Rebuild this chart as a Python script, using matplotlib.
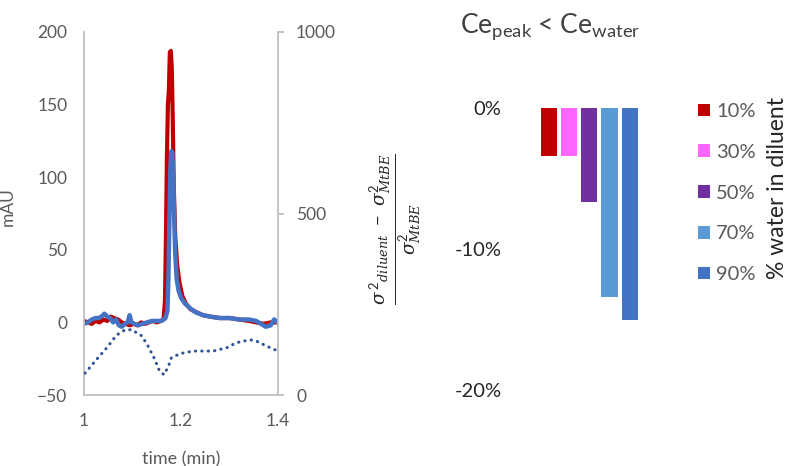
import matplotlib
matplotlib.use("Agg")
import matplotlib.pyplot as plt
from matplotlib.patches import Patch
from matplotlib.ticker import FuncFormatter

plt.rcParams['font.family'] = ['Lato', 'DejaVu Sans']
plt.rcParams['mathtext.fontset'] = 'custom'
plt.rcParams['mathtext.rm'] = 'Lato'
plt.rcParams['mathtext.it'] = 'DejaVu Serif:italic'
plt.rcParams['mathtext.bf'] = 'Lato:bold'

# --- chromatogram data ---
red_t = [1.000, 1.008, 1.016, 1.024, 1.032, 1.040, 1.048, 1.055, 1.062, 1.070,
         1.078, 1.086, 1.094, 1.102, 1.110, 1.118, 1.126, 1.134, 1.142, 1.150,
         1.158, 1.164, 1.167, 1.169, 1.171, 1.173, 1.175, 1.177, 1.179, 1.181,
         1.183, 1.185, 1.188, 1.192, 1.197, 1.203, 1.210, 1.220, 1.232, 1.245,
         1.260, 1.280, 1.300, 1.320, 1.340, 1.355, 1.370, 1.385, 1.400]
red_mau = [1, 0, -1, 1, 0, 2, 1, 4, 3, 2,
           0, -1, -2, -1, -2, 0, -1, 0, 1, 0,
           1, 2, 15, 60, 115, 150, 160, 186, 187, 175,
           140, 95, 60, 40, 27, 18, 13, 9, 7, 5,
           4, 3, 3, 2, 1, 0, -1, 0, 0]

blue_t = [1.000, 1.008, 1.016, 1.024, 1.030, 1.036, 1.042, 1.048, 1.054, 1.060,
          1.066, 1.072, 1.078, 1.084, 1.090, 1.094, 1.098, 1.104, 1.112, 1.120,
          1.130, 1.140, 1.150, 1.160, 1.168, 1.172, 1.174, 1.176, 1.178, 1.180,
          1.182, 1.184, 1.186, 1.188, 1.191, 1.195, 1.200, 1.208, 1.218, 1.230,
          1.245, 1.260, 1.280, 1.300, 1.320, 1.340, 1.355, 1.365, 1.375, 1.385,
          1.392, 1.400]
blue_mau = [-1, 0, 2, 3, 3, 4, 6, 4, 3, 0,
            2, -2, -3, -1, 0, 5, 0, -1, -2, -1,
            0, 1, 1, 1, 3, 8, 30, 70, 105, 118,
            117, 100, 72, 48, 30, 22, 17, 13, 10, 7,
            5, 4, 3, 3, 2, 2, 1, -1, -3, -2,
            2, 0]

dot_t = [1.002, 1.026, 1.047, 1.067, 1.084, 1.098, 1.119, 1.132, 1.146, 1.156,
         1.165, 1.174, 1.180, 1.198, 1.225, 1.266, 1.294, 1.314, 1.342, 1.355,
         1.376, 1.400]
dot_v = [60, 98, 130, 165, 179, 180, 163, 135, 98, 65,
         56, 79, 102, 114, 121, 121, 130, 144, 152, 149,
         135, 121]

# --- bar chart data ---
water = ['10%', '30%', '50%', '70%', '90%']
rel_change = [-3.4, -3.4, -6.7, -13.4, -15.0]
bar_colors = ['#C00000', '#FF66FF', '#7030A0', '#5B9BD5', '#4472C4']

W, H = 788, 466
fig = plt.figure(figsize=(W / 100, H / 100), dpi=100)

grey = '#595959'
dark = '#404040'
spine_c = '#BFBFBF'

# --- 1. Chromatogram (left) ---
ax1 = fig.add_axes([84 / W, 1 - 395 / H, (278 - 84) / W, (395 - 32) / H])
ax1.plot(red_t, red_mau, color='#C00000', lw=3.0, solid_joinstyle='round')
ax1.plot(blue_t, blue_mau, color='#4472C4', lw=3.2, solid_joinstyle='round')
ax1.set_xlim(1.0, 1.4)
ax1.set_ylim(-50, 200)
ax1.set_xticks([1.0, 1.2, 1.4])
ax1.set_xticklabels(['1', '1.2', '1.4'])
ax1.set_yticks([-50, 0, 50, 100, 150, 200])
ax1.tick_params(axis='y', length=0, pad=12, labelsize=12.5, labelcolor=grey)
ax1.tick_params(axis='x', length=0, pad=13, labelsize=12.5, labelcolor=grey)
for s in ['top', 'right']:
    ax1.spines[s].set_visible(False)
for s in ['left', 'bottom']:
    ax1.spines[s].set_color(spine_c)
    ax1.spines[s].set_linewidth(1.3)
ax1.set_xlabel('time (min)', fontsize=13, color=grey)
ax1.xaxis.set_label_coords(0.5, -0.155)
ax1.set_ylabel('mAU', fontsize=12.5, color=grey)
ax1.yaxis.set_label_coords(-0.35, 0.52)

ax2 = ax1.twinx()
ax2.plot(dot_t, dot_v, color='#2F5597', lw=2.2, linestyle=(0, (0.1, 2.0)),
         dash_capstyle='round')
ax2.set_ylim(0, 1000)
ax2.set_yticks([0, 500, 1000])
ax2.tick_params(axis='y', length=4, width=1.3, color=spine_c, pad=9,
                labelsize=12.5, labelcolor=grey)
for s in ['top', 'left', 'bottom']:
    ax2.spines[s].set_visible(False)
ax2.spines['right'].set_color(spine_c)
ax2.spines['right'].set_linewidth(1.3)

# --- 2. Relative variance change (right) ---
ax3 = fig.add_axes([510 / W, 1 - 390 / H, 165 / W, (390 - 108) / H])
xs = list(range(len(water)))
ax3.bar(xs, [v / 100 for v in rel_change], width=0.8, color=bar_colors,
        align='center')
ax3.set_xlim(-(548.7 - 510) / 20.3, -(548.7 - 510) / 20.3 + 165 / 20.3)
ax3.set_ylim(-0.2, 0)
ax3.set_yticks([-0.2, -0.1, 0])
ax3.yaxis.set_major_formatter(FuncFormatter(lambda v, p: f"{v * 100:.0f}%".replace('\u2212', '-')))
ax3.tick_params(axis='y', length=0, pad=6, labelsize=14.5, labelcolor='#262626')
ax3.set_xticks([])
for s in ax3.spines.values():
    s.set_visible(False)

handles = [Patch(facecolor=c, edgecolor='none') for c in bar_colors]
fig.legend(handles, water, loc='upper left', bbox_to_anchor=(680 / W, 1 - 85 / H),
           frameon=False, fontsize=14.5, labelcolor=grey, handlelength=0.6,
           handleheight=0.6, handletextpad=0.3, labelspacing=1.18)

fig.text(777 / W, 1 - 188 / H, '% water in diluent', rotation=90, fontsize=16.5,
         color='#262626', ha='center', va='center')

fig.text(550 / W, 1 - 27 / H, r'Ce$_{\mathrm{peak}}$ < Ce$_{\mathrm{water}}$',
         fontsize=19, color=dark, ha='center', va='center')

fig.text(395 / W, 1 - 229 / H,
         r'$\frac{{\sigma^{\,2}}_{diluent}\ -\ \sigma^{2}_{MtBE}}{\sigma^{2}_{MtBE}}$',
         rotation=90, fontsize=19, color='#262626', ha='center', va='center')

fig.savefig('out.png', dpi=100)
